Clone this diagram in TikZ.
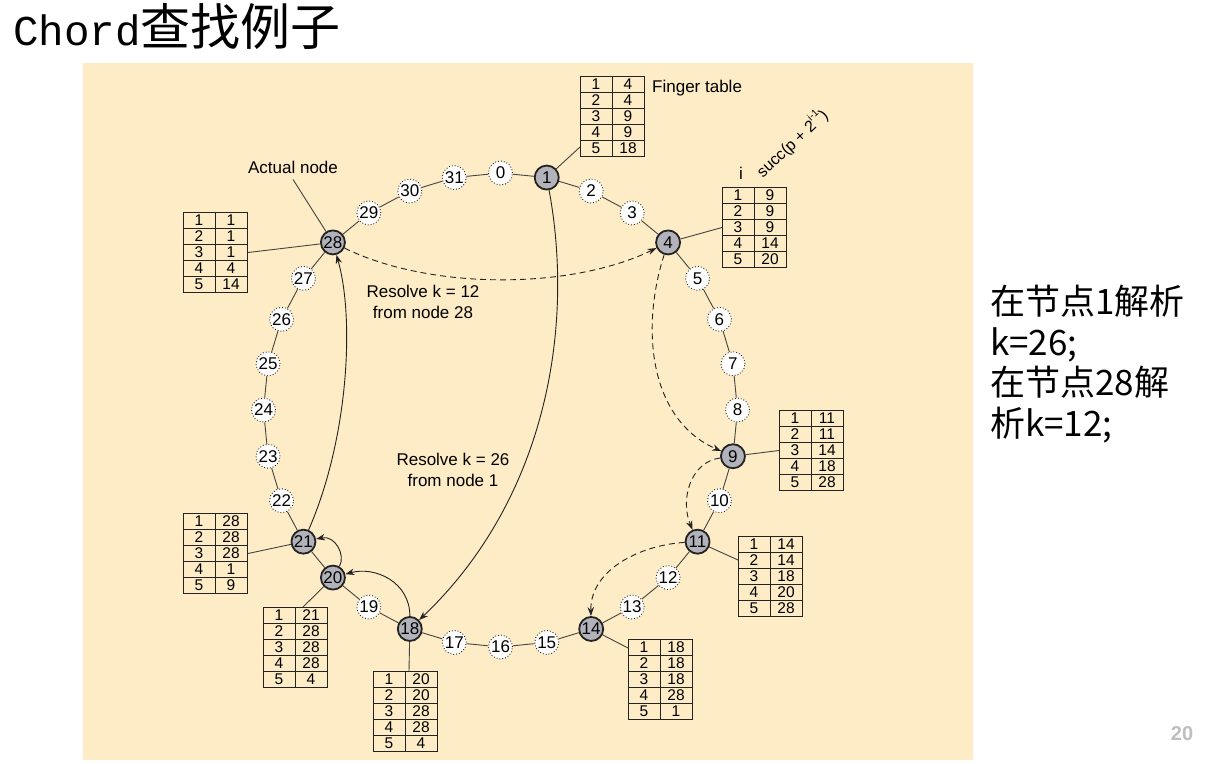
\documentclass[tikz,border=0pt]{standalone}
\usepackage{fontspec}
\setmainfont{Liberation Sans}
\newfontfamily\monof{Liberation Mono}
\newfontfamily\cjk{Noto Sans CJK SC}
\usetikzlibrary{arrows.meta}
\definecolor{bgpanel}{RGB}{253,236,197}
\definecolor{nodegray}{RGB}{178,178,186}
\definecolor{pagegray}{RGB}{190,190,190}
\definecolor{inkc}{RGB}{35,35,35}
\tikzset{
  ring/.style={circle, minimum size=24pt, inner sep=0pt, font=\fontsize{17}{17}\selectfont},
  dotnode/.style={ring, fill=white, draw=inkc, dotted, line width=0.9pt},
  actnode/.style={ring, fill=nodegray, draw=inkc, line width=1.8pt},
  seg/.style={draw=inkc!85, line width=0.9pt},
  arr/.style={draw=inkc, line width=0.9pt, -{Stealth[length=9pt,width=6.5pt]}},
  darr/.style={arr, dash pattern=on 6pt off 4pt},
  tbl/.style={draw=inkc, line width=1pt, minimum width=64pt, minimum height=80pt, inner sep=0pt},
  cell/.style={font=\fontsize{15.5}{15.5}\selectfont, inner sep=0pt},
  lbl/.style={font=\fontsize{17}{20.5}\selectfont, inner sep=0pt},
}
\newcommand\ftable[4]{%
  \node[tbl, anchor=north west] (#1) at (#2,#3) {};
  \draw[inkc, line width=1pt] (#1.north) -- (#1.south);
  \foreach \r in {1,...,4} {\draw[inkc, line width=1pt] ([yshift={-\r*16pt}]#1.north west) -- ([yshift={-\r*16pt}]#1.north east);}
  \foreach \v [count=\r] in {#4} {
    \node[cell] (#1-\r-1) at ([xshift=16pt,yshift={-(\r-0.5)*16pt}]#1.north west) {\r};
    \node[cell] (#1-\r-2) at ([xshift=48pt,yshift={-(\r-0.5)*16pt}]#1.north west) {\v};
  }
}
\begin{document}
\begin{tikzpicture}[x=1pt,y=-1pt]
\useasboundingbox[fill=white] (0,0) rectangle (1217,763);
\fill[bgpanel] (83,63) rectangle (973,760);

% ring nodes
\foreach \k in {0,2,3,5,6,7,8,10,12,13,15,16,17,19,22,23,24,25,26,27,29,30,31} {
  \pgfmathsetmacro\px{500.5+237*cos(90-\k*11.25)}
  \pgfmathsetmacro\py{410-237*sin(90-\k*11.25)}
  \node[dotnode] (n\k) at (\px,\py) {\k};
}
\foreach \k in {1,4,9,11,14,18,20,21,28} {
  \pgfmathsetmacro\px{500.5+237*cos(90-\k*11.25)}
  \pgfmathsetmacro\py{410-237*sin(90-\k*11.25)}
  \node[actnode] (n\k) at (\px,\py) {\k};
}
\foreach \k in {0,...,31} {
  \pgfmathtruncatemacro\j{mod(\k+1,32)}
  \draw[seg] (n\k) -- (n\j);
}

% finger tables
\ftable{t1}{580}{76}{4,4,9,9,18}
\ftable{t4}{722}{187}{9,9,9,14,20}
\ftable{t9}{779}{410}{11,11,14,18,28}
\ftable{t11}{738}{536}{14,14,18,20,28}
\ftable{t14}{628}{639}{18,18,18,28,1}
\ftable{t18}{373}{671}{20,20,28,28,4}
\ftable{t20}{263}{607}{21,28,28,28,4}
\ftable{t21}{183}{513}{28,28,28,1,9}
\ftable{t28}{183}{212}{1,1,1,4,14}

\draw[seg] (n1) -- ([yshift=-71pt]t1.north west);
\draw[seg] (n4) -- (t4.west);
\draw[seg] (n9) -- (t9.west);
\draw[seg] (n11) -- ([yshift=-24pt]t11.north west);
\draw[seg] (n14) -- ([yshift=-9pt]t14.north west);
\draw[seg] (n18) -- ([xshift=36pt]t18.north west);
\draw[seg] (n20) -- ([xshift=40pt]t20.north west);
\draw[seg] (n21) -- (t21.east);
\draw[seg] (n28) -- (t28.east);

% labels
\node[lbl, anchor=west] (ftlabel) at (652,88) {Finger table};
\node[lbl] (actlabel) at (293,167) {Actual node};
\draw[seg] ([yshift=-6pt]actlabel.south) -- (n28);
\node[lbl] (ilabel) at (741,173) {i};
\node[lbl, font=\fontsize{16}{16}\selectfont, rotate=43, anchor=south west] (succlabel) at (765,181) {succ(p + 2\raisebox{0.55em}{\fontsize{10}{10}\selectfont i-1})};
\node[lbl, align=center] (res12) at (423,302) {Resolve k = 12\\from node 28};
\node[lbl, align=center] (res26) at (453,470) {Resolve k = 26\\from node 1};

% lookup arrows
\draw[arr] (n1) .. controls (575,330) and (545,500) .. (n18);
\draw[arr] (n18) .. controls (410,582) and (375,566) .. (n20);
\draw[arr] (n20) .. controls (346,555) and (335,535) .. (n21);
\draw[arr] (n21) .. controls (348,440) and (355,320) .. (n28);
\draw[darr] (n28) .. controls (430,290) and (570,290) .. (n4);
\draw[darr] (n4) .. controls (640,330) and (650,420) .. (n9);
\draw[darr] (n9) .. controls (690,462) and (680,500) .. (n11);
\draw[darr] (n11) .. controls (640,545) and (590,570) .. (n14);

% title and side note
\node[anchor=base west, inner sep=0pt] (title) at (13,45) {{\monof\fontsize{42.5}{44}\selectfont Chord}{\cjk\fontsize{50}{50}\selectfont 查找例子}};
\node[anchor=north west, inner sep=0pt, align=left, font=\cjk\fontsize{35}{40.5}\selectfont] (note) at (990,285) {在节点1解析\\k=26;\\在节点28解\\析k=12;};
\node[font=\bfseries\fontsize{20}{20}\selectfont, text=pagegray, inner sep=0pt] (pnum) at (1182,734) {20};
\end{tikzpicture}
\end{document}
